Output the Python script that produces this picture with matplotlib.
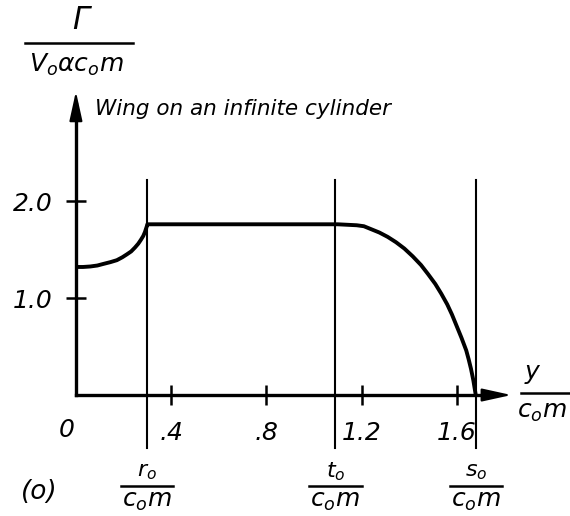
import matplotlib
matplotlib.use("Agg")
import matplotlib.pyplot as plt

# circulation distribution (y/c0m, Gamma/(V0 a c0m))
y_inner = [0.0, 0.03, 0.06, 0.09, 0.113, 0.145, 0.172, 0.195, 0.214, 0.232,
           0.248, 0.262, 0.273, 0.283, 0.29, 0.298]
g_inner = [1.32, 1.32, 1.325, 1.335, 1.35, 1.37, 1.39, 1.42, 1.45, 1.48,
           1.52, 1.56, 1.60, 1.64, 1.68, 1.74]
y_outer = [0.30, 0.8, 1.10, 1.18, 1.21, 1.24, 1.275, 1.31, 1.345, 1.38, 1.415,
           1.45, 1.48, 1.51, 1.535, 1.56, 1.58, 1.60, 1.62, 1.64, 1.65, 1.66,
           1.67, 1.68]
g_outer = [1.76, 1.76, 1.76, 1.75, 1.74, 1.71, 1.675, 1.63, 1.575, 1.51, 1.43,
           1.34, 1.245, 1.145, 1.045, 0.935, 0.83, 0.71, 0.59, 0.46, 0.37, 0.27,
           0.15, 0.0]

# stations r0, t0, s0
stations = [0.30, 1.09, 1.68]
station_names = ["r", "t", "s"]

xticks = [0.4, 0.8, 1.2, 1.6]
xtick_labels = [".4", ".8", "1.2", "1.6"]
yticks = [1.0, 2.0]
ytick_labels = ["1.0", "2.0"]

plt.rcParams['font.family'] = ['DejaVu Sans']
plt.rcParams['mathtext.fontset'] = 'dejavusans'

fig = plt.figure(figsize=(5.7, 5.16), dpi=100)
ax = fig.add_axes([0, 0, 1, 1])
ax.set_xlim(-0.319, 2.076)
ax.set_ylim(-1.247, 4.072)

# curve
ax.plot(y_inner + y_outer, g_inner + g_outer, color='black', lw=2.8,
        solid_capstyle='butt', solid_joinstyle='round')

# station lines
for s in stations:
    ax.plot([s, s], [-0.55, 2.22], color='black', lw=1.5)

# axes drawn as spines through the origin
for side in ['top', 'right']:
    ax.spines[side].set_visible(False)
ax.spines['left'].set_position(('data', 0))
ax.spines['bottom'].set_position(('data', 0))
ax.spines['left'].set_bounds(0, 3.0)
ax.spines['bottom'].set_bounds(0, 1.75)
ax.spines['left'].set_linewidth(2.4)
ax.spines['bottom'].set_linewidth(2.4)

head = '-|>,head_width=0.22,head_length=1.0'
ax.annotate('', xy=(0, 3.13), xytext=(0, 2.95),
            arrowprops=dict(arrowstyle=head, color='black', lw=1.5,
                            mutation_scale=18, shrinkA=0, shrinkB=0))
ax.annotate('', xy=(1.83, 0), xytext=(1.72, 0),
            arrowprops=dict(arrowstyle=head, color='black', lw=1.5,
                            mutation_scale=18, shrinkA=0, shrinkB=0))

ax.set_xticks(xticks)
ax.set_xticklabels(xtick_labels, fontsize=18, style='italic')
ax.set_yticks(yticks)
ax.set_yticklabels(ytick_labels, fontsize=18, style='italic')
ax.tick_params(axis='x', direction='inout', length=14, width=1.8, pad=12)
ax.tick_params(axis='y', direction='inout', length=14, width=1.8, pad=10)
ax.text(-0.04, -0.36, "0", fontsize=18, style='italic', ha='center', va='center')

# y-axis label as a fraction
ax.text(0.02, 3.86, "Γ", fontsize=22, style='italic', ha='center', va='center')
ax.plot([-0.214, 0.239], [3.63, 3.63], color='black', lw=1.8, clip_on=False)
ax.text(0.0, 3.40, r'$V_o\alpha c_o m$', fontsize=18, ha='center', va='center')

# x-axis label
ax.text(1.92, 0.22, r'$y$', fontsize=18, ha='center', va='center')
ax.plot([1.87, 2.07], [0.02, 0.02], color='black', lw=1.8, clip_on=False)
ax.text(1.96, -0.18, r'$c_o m$', fontsize=18, ha='center', va='center')

# station labels
for s, n in zip(stations, station_names):
    ax.text(s, -0.79, r'$%s_o$' % n, fontsize=16, ha='center', va='center')
    ax.plot([s - 0.11, s + 0.11], [-0.94, -0.94], color='black', lw=1.8)
    ax.text(s, -1.09, r'$c_o m$', fontsize=18, ha='center', va='center')

ax.text(-0.155, -1.0, "(o)", fontsize=19, style='italic', ha='center', va='center')

ax.text(0.08, 2.95, "Wing on an infinite cylinder", fontsize=15.5, style='italic',
        ha='left', va='center')

fig.savefig('out.png', dpi=100)
